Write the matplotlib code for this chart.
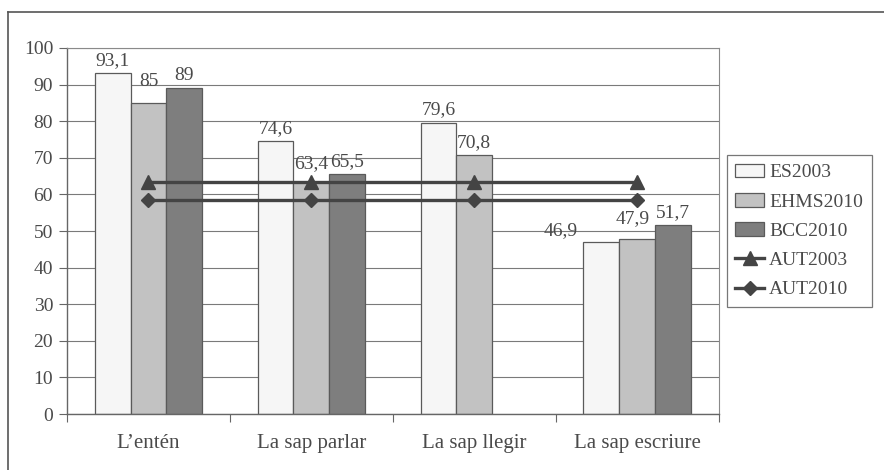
import matplotlib.pyplot as plt
import numpy as np
from matplotlib.lines import Line2D

plt.rcParams['font.family'] = ['Liberation Serif', 'DejaVu Serif']

categories = ["L\u2019entén", "La sap parlar", "La sap llegir", "La sap escriure"]
es2003 = [93.1, 74.6, 79.6, 46.9]
ehms2010 = [85, 63.4, 70.8, 47.9]
bcc2010 = [89, 65.5, np.nan, 51.7]
aut2003 = [63.5, 63.5, 63.5, 63.5]
aut2010 = [58.4, 58.4, 58.4, 58.4]

txt = '#4a4a4a'
edge = '#5a5a5a'

fig = plt.figure(figsize=(8.84, 4.70), dpi=100)
ax = fig.add_axes([0.0758, 0.119, 0.813 - 0.0758, 0.898 - 0.119])

# outer frame (top and left edges only)
fig.add_artist(Line2D([0.009, 1.0], [0.974, 0.974], color='#555555', lw=1.2))
fig.add_artist(Line2D([0.009, 0.009], [0.0, 0.974], color='#555555', lw=1.2))

x = np.arange(len(categories)) + 0.5
w = 0.22
series = [(es2003, '#f6f6f6', 'ES2003'),
          (ehms2010, '#c2c2c2', 'EHMS2010'),
          (bcc2010, '#7e7e7e', 'BCC2010')]

# label nudges (points) where labels would collide with the lines
nudge = {('EHMS2010', 0): (0, 9), ('EHMS2010', 1): (0, 7),
         ('EHMS2010', 3): (-3, 8)}

handles = []
for k, (vals, col, name) in enumerate(series):
    xs = x + (k - 1) * w
    b = ax.bar(xs, vals, width=w, color=col, edgecolor=edge, linewidth=0.9,
               label=name, zorder=2)
    handles.append(b)
    for i, (xi, v) in enumerate(zip(xs, vals)):
        if np.isnan(v):
            continue
        lab = f'{v:g}'.replace('.', ',')
        if name == 'ES2003' and i == 3:
            ax.annotate(lab, (xi - w / 2, v), xytext=(-4, 2), textcoords='offset points',
                        ha='right', va='bottom', fontsize=14, color=txt)
        else:
            dx, dy = nudge.get((name, i), (0, 3))
            ax.annotate(lab, (xi, v), xytext=(dx, dy), textcoords='offset points',
                        ha='center', va='bottom', fontsize=14, color=txt)

l1, = ax.plot(x, aut2003, color='#444444', lw=2.4, marker='^', markersize=10,
              label='AUT2003', zorder=4)
l2, = ax.plot(x, aut2010, color='#444444', lw=2.4, marker='D', markersize=7.5,
              label='AUT2010', zorder=4)
handles += [l1, l2]

ax.set_xlim(0, 4)
ax.set_ylim(0, 100)
ax.set_yticks(range(0, 101, 10))
ax.set_xticks(range(0, 5))
ax.set_xticklabels([])
ax.set_xticks(x, minor=True)
ax.set_xticklabels(categories, minor=True, fontsize=15, color=txt)
ax.tick_params(axis='x', which='minor', length=0, pad=14)
ax.tick_params(axis='x', which='major', length=6, color='#666666', direction='out')
ax.tick_params(axis='y', length=6, color='#666666', labelsize=14, labelcolor=txt, pad=4)

ax.grid(axis='y', color='#7a7a7a', linewidth=0.8, zorder=0)
ax.set_axisbelow(True)
for side in ['top', 'right']:
    ax.spines[side].set_color('#8a8a8a')
    ax.spines[side].set_linewidth(0.8)
for side in ['left', 'bottom']:
    ax.spines[side].set_color('#666666')
    ax.spines[side].set_linewidth(1.0)

leg = ax.legend(handles=handles, loc='center left', bbox_to_anchor=(1.012, 0.5),
                borderaxespad=0, fontsize=14, frameon=True, fancybox=False,
                edgecolor='#555555', handlelength=1.5, handletextpad=0.25,
                labelspacing=0.6, borderpad=0.45, labelcolor=txt)
leg.get_frame().set_linewidth(0.9)

fig.savefig('out.png', dpi=100)
